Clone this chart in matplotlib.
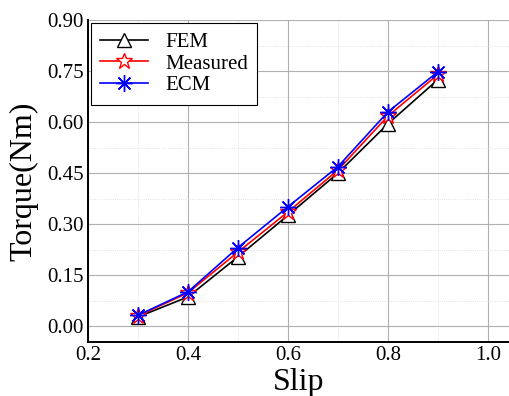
import matplotlib
matplotlib.use("Agg")
import matplotlib.pyplot as plt
from matplotlib.ticker import MultipleLocator

plt.rcParams["font.family"] = ["Liberation Serif", "DejaVu Serif"]

slip = [0.3, 0.4, 0.5, 0.6, 0.7, 0.8, 0.9]
fem = [0.027, 0.086, 0.204, 0.326, 0.450, 0.595, 0.725]
measured = [0.030, 0.098, 0.218, 0.336, 0.459, 0.618, 0.740]
ecm = [0.032, 0.101, 0.231, 0.351, 0.469, 0.630, 0.748]

fig = plt.figure(figsize=(5.1, 3.96), dpi=100)
ax = fig.add_axes([0.1725, 0.136, 0.8275, 0.8135])

ax.plot(slip, fem, color="black", lw=1.2, marker="^", ms=10,
        mfc="white", mec="black", mew=1.0, label="FEM")
ax.plot(slip, measured, color="red", lw=1.2, marker="*", ms=12,
        mfc="white", mec="red", mew=1.0, label="Measured")
ax.plot(slip, ecm, color="blue", lw=1.2, marker=(8, 2, 0), ms=12,
        mec="blue", mew=1.0, label="ECM")

ax.set_xlim(0.2, 1.044)
ax.set_ylim(-0.047, 0.9)
ax.xaxis.set_major_locator(MultipleLocator(0.2))
ax.xaxis.set_minor_locator(MultipleLocator(0.1))
ax.yaxis.set_major_locator(MultipleLocator(0.15))
ax.yaxis.set_minor_locator(MultipleLocator(0.075))
ax.yaxis.set_major_formatter(matplotlib.ticker.FormatStrFormatter("%.2f"))
ax.xaxis.set_major_formatter(matplotlib.ticker.FormatStrFormatter("%.1f"))

ax.grid(True, which="major", color="#b0b0b0", lw=0.8)
ax.grid(True, which="minor", color="#d8d8d8", lw=0.6, ls=":")
ax.set_axisbelow(True)

for s in ("top", "right"):
    ax.spines[s].set_visible(False)
for s in ("left", "bottom"):
    ax.spines[s].set_linewidth(1.4)
ax.tick_params(which="both", length=0, labelsize=15, pad=3)

ax.set_xlabel("Slip", fontsize=23, labelpad=2)
ax.set_ylabel("Torque(Nm)", fontsize=23, labelpad=6)

leg = ax.legend(loc="upper left", fontsize=15, fancybox=False,
                edgecolor="black", framealpha=1, handlelength=2.3,
                borderaxespad=0.15, labelspacing=0.1, borderpad=0.45)
leg.get_frame().set_linewidth(0.8)

fig.savefig("out.png", dpi=100)
